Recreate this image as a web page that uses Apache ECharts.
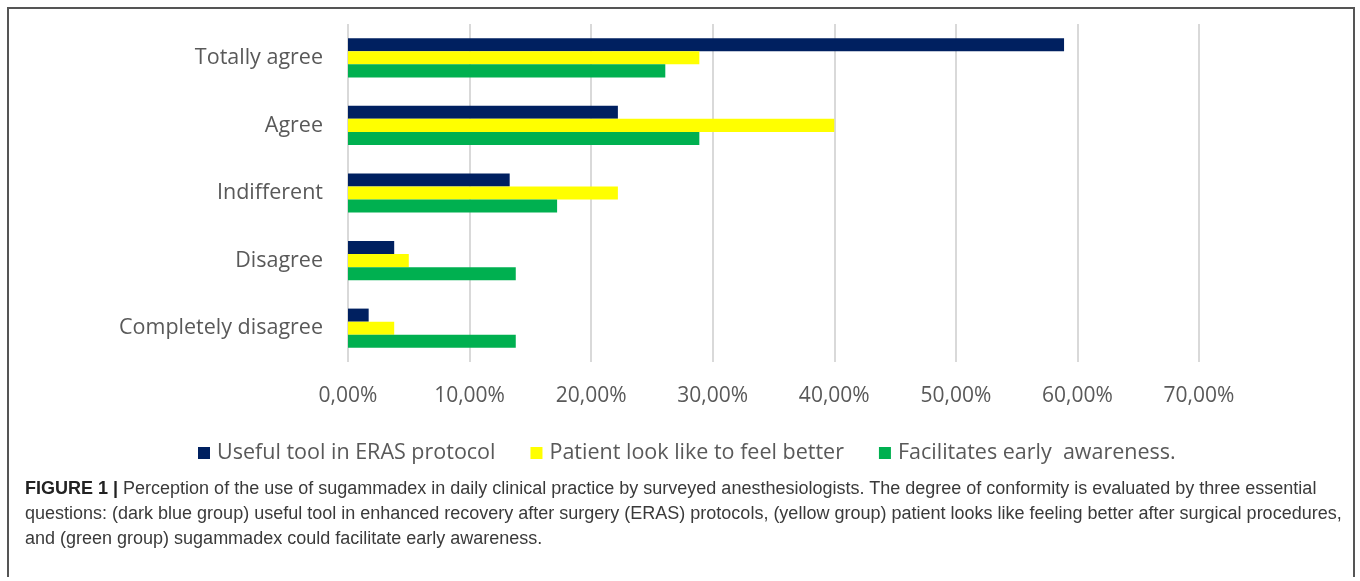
<!DOCTYPE html>
<html>
<head>
<meta charset="utf-8">
<title>Sugammadex perception</title>
<script src="https://cdn.jsdelivr.net/npm/echarts@6/dist/echarts.min.js"></script>
<style>
  html, body { margin: 0; padding: 0; background: #fff; }
  #frame {
    position: absolute; left: 7px; top: 7px; width: 1348px; height: 570px;
    border: 2px solid #555; border-bottom: none; box-sizing: border-box;
  }
  #chart { position: absolute; left: 0; top: 0; width: 1360px; height: 581px; }
  #caption {
    position: absolute; left: 25px; top: 476px; width: 1325px;
    font-family: "Liberation Sans", Arial, sans-serif; font-size: 18px;
    line-height: 25px; color: #3a3a3a; white-space: nowrap;
  }
  #caption b { color: #222; }
</style>
</head>
<body>
<div id="chart"></div>
<div id="frame"></div>
<div id="caption">
  <b>FIGURE 1 |</b> Perception of the use of sugammadex in daily clinical practice by surveyed anesthesiologists. The degree of conformity is evaluated by three essential<br>
  questions: (dark blue group) useful tool in enhanced recovery after surgery (ERAS) protocols, (yellow group) patient looks like feeling better after surgical procedures,<br>
  and (green group) sugammadex could facilitate early awareness.
</div>
<script>
  // categories, top to bottom
  var categories = ['Totally agree', 'Agree', 'Indifferent', 'Disagree', 'Completely disagree'];
  var seriesNames = ['Useful tool in ERAS protocol', 'Patient look like to feel better', 'Facilitates early  awareness.'];
  // percent values
  var usefulTool = [58.9, 22.2, 13.3, 3.8, 1.7];
  var feelBetter = [28.9, 40.0, 22.2, 5.0, 3.8];
  var earlyAwareness = [26.1, 28.9, 17.2, 13.8, 13.8];
  var colors = ['#002060', '#FFFF00', '#00B050'];

  var chart = echarts.init(document.getElementById('chart'));
  var font = '"Open Sans", sans-serif';

  function pct(v) {
    return v.toFixed(2).replace('.', ',') + '%';
  }

  var option = {
    animation: false,
    color: colors,
    legend: {
      data: seriesNames,
      left: 193,
      top: 437,
      itemWidth: 12,
      itemHeight: 12,
      itemGap: 35,
      icon: 'rect',
      textStyle: { fontFamily: font, fontSize: 21.5, color: '#595959', padding: [0, 0, 0, 2] }
    },
    grid: { left: 348, right: 161, top: 24, bottom: 219 },
    xAxis: {
      type: 'value',
      min: 0,
      max: 70,
      interval: 10,
      axisLine: { show: false },
      axisTick: { show: false },
      splitLine: { lineStyle: { color: '#d9d9d9', width: 2 } },
      axisLabel: {
        formatter: pct,
        margin: 24,
        fontFamily: font,
        fontSize: 21,
        color: '#595959'
      }
    },
    yAxis: {
      type: 'category',
      inverse: true,
      data: categories,
      axisLine: { show: false },
      axisTick: { show: false },
      axisLabel: { margin: 25, fontFamily: font, fontSize: 21.5, color: '#595959' }
    },
    series: [
      { name: seriesNames[0], type: 'bar', data: usefulTool, barGap: '0%', barCategoryGap: '42%' },
      { name: seriesNames[1], type: 'bar', data: feelBetter, barGap: '0%', barCategoryGap: '42%' },
      { name: seriesNames[2], type: 'bar', data: earlyAwareness, barGap: '0%', barCategoryGap: '42%' }
    ]
  };
  chart.setOption(option);
</script>
</body>
</html>
